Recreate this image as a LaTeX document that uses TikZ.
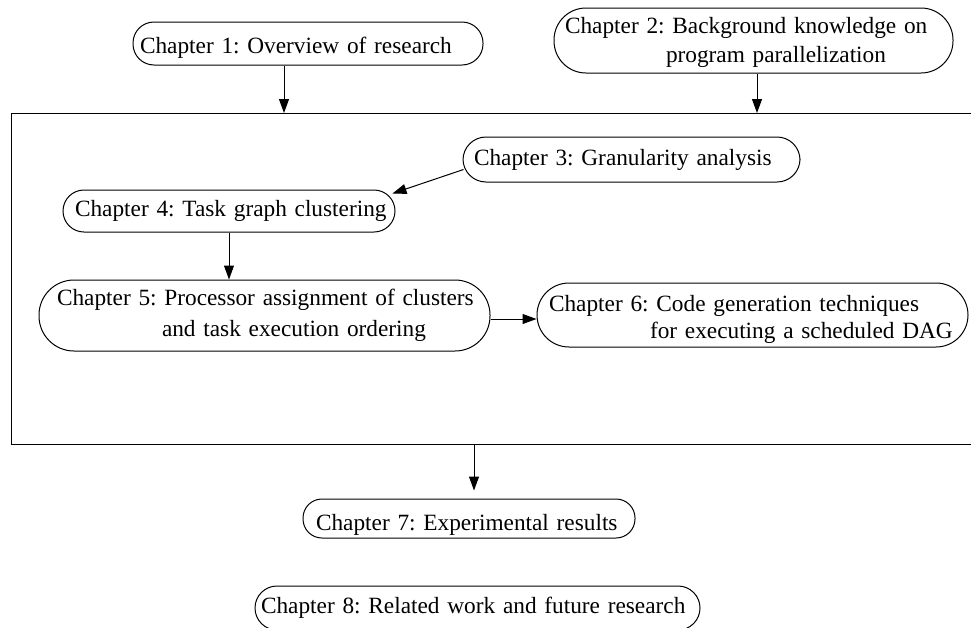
\documentclass[tikz,border=0pt]{standalone}
\usepackage{fontspec}
\setmainfont{Liberation Serif}
\usetikzlibrary{arrows.meta,calc}
\frenchspacing
\begin{document}
\begin{tikzpicture}[x=1pt,y=-1pt,
  chap/.style={draw, line width=1pt, rounded corners=#1, align=left,
    inner ysep=0pt, font=\fontsize{23.3}{28}\selectfont},
  arr/.style={-{Triangle[length=14pt,width=10pt]}, line width=1pt},
]
\useasboundingbox (0,0) rectangle (971,627);

% enclosing frame for chapters 3-6
\node[draw, line width=1pt, inner sep=0pt, minimum width=1000pt,
      minimum height=331pt, anchor=north west] (frame) at (11,113) {};

% chapter boxes (the zero-width rules set how low the first line sits)
\node[chap=21pt, text width=336pt, inner xsep=7pt, minimum height=43pt] (ch1) at (308,43.5)
  {\rule{0pt}{25pt}\mbox{Chapter 1: Overview of research}};
\node[chap=32pt, text width=377pt, inner xsep=11pt, minimum height=65pt] (ch2) at (753.5,40.5)
  {\rule{0pt}{21pt}\mbox{Chapter 2: Background knowledge on}\\[1pt]\hspace*{101pt}\mbox{program parallelization}};
\node[chap=23pt, text width=315pt, inner xsep=11pt, minimum height=45pt] (ch3) at (631.5,159.5)
  {\mbox{Chapter 3: Granularity analysis}};
\node[chap=21pt, text width=308pt, inner xsep=12pt, minimum height=42pt] (ch4) at (229,211)
  {\mbox{Chapter 4: Task graph clustering}};
\node[chap=35pt, text width=415pt, inner xsep=18pt, minimum height=71pt] (ch5) at (264.5,315.5)
  {\mbox{Chapter 5: Processor assignment of clusters}\\[3pt]\hspace*{105pt}\mbox{and task execution ordering}};
\node[chap=32pt, text width=407pt, inner xsep=12pt, minimum height=64pt] (ch6) at (752.5,315)
  {\rule{0pt}{26pt}\mbox{Chapter 6: Code generation techniques}\\[-1pt]\hspace*{101pt}\mbox{for executing a scheduled DAG}};
\node[chap=19pt, text width=306pt, inner xsep=13pt, minimum height=39pt] (ch7) at (469,518.5)
  {\rule{0pt}{28pt}\mbox{Chapter 7: Experimental results}};
\node[chap=22pt, text width=433pt, inner xsep=6pt, minimum height=44pt] (ch8) at (477.5,608)
  {\mbox{Chapter 8: Related work and future research}};

% connectors
\draw[arr] (284,0 |- ch1.south) -- (284,0 |- frame.north);
\draw[arr] (757,0 |- ch2.south) -- (757,0 |- frame.north);
\draw[arr] ($(ch3.west)+(1,10)$) -- ($(ch4.north east)+(-3,4)$);
\draw[arr] (229,0 |- ch4.south) -- (229,0 |- ch5.north);
\draw[arr] (ch5.east |- 0,319) -- (ch6.west |- 0,319);
\draw[arr, shorten >=8pt] (474,0 |- frame.south) -- (474,0 |- ch7.north);
\end{tikzpicture}
\end{document}
